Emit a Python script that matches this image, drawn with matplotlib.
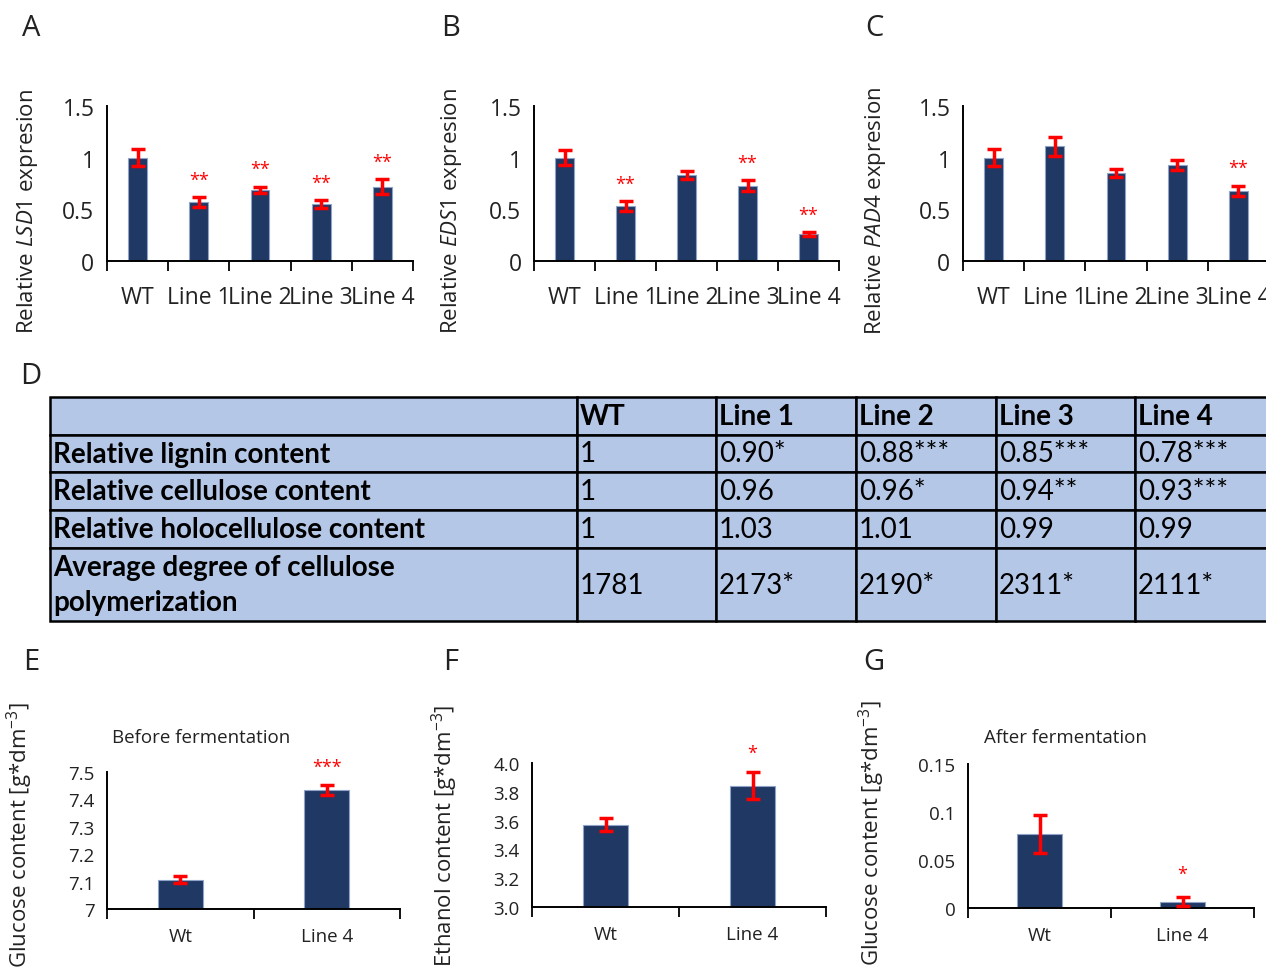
import numpy as np
import matplotlib
matplotlib.use('Agg')
import matplotlib.pyplot as plt
from matplotlib.ticker import FuncFormatter

plt.rcParams['font.family'] = ['Open Sans', 'DejaVu Sans']
plt.rcParams['mathtext.fontset'] = 'custom'
plt.rcParams['mathtext.rm'] = 'Open Sans'
plt.rcParams['mathtext.it'] = 'Open Sans:italic'

# ---- data ----
groups5 = ['WT', 'Line 1', 'Line 2', 'Line 3', 'Line 4']
lsd1_mean = [1.00, 0.57, 0.69, 0.55, 0.72]
lsd1_err = [0.08, 0.05, 0.03, 0.04, 0.07]
lsd1_sig = ['', '**', '**', '**', '**']
eds1_mean = [1.00, 0.53, 0.83, 0.73, 0.26]
eds1_err = [0.07, 0.05, 0.04, 0.05, 0.02]
eds1_sig = ['', '**', '', '**', '**']
pad4_mean = [1.00, 1.11, 0.85, 0.93, 0.68]
pad4_err = [0.08, 0.09, 0.04, 0.05, 0.05]
pad4_sig = ['', '', '', '', '**']

groups2 = ['Wt', 'Line 4']
glc_before_mean = [7.107, 7.435]
glc_before_err = [0.012, 0.018]
glc_before_sig = ['', '***']
ethanol_mean = [3.572, 3.843]
ethanol_err = [0.045, 0.095]
ethanol_sig = ['', '*']
glc_after_mean = [0.077, 0.0066]
glc_after_err = [0.020, 0.005]
glc_after_sig = ['', '*']

table_cols = ['', 'WT', 'Line 1', 'Line 2', 'Line 3', 'Line 4']
table_rows = ['Relative lignin content', 'Relative cellulose content',
              'Relative holocellulose content',
              'Average degree of cellulose\npolymerization']
table_vals = [['1', '0.90*', '0.88***', '0.85***', '0.78***'],
              ['1', '0.96', '0.96*', '0.94**', '0.93***'],
              ['1', '1.03', '1.01', '0.99', '0.99'],
              ['1781', '2173*', '2190*', '2311*', '2111*']]

W, H = 1266, 970
BAR = '#203864'
TXT = '#222222'
fig = plt.figure(figsize=(W / 100, H / 100), dpi=100)


def px_axes(left, top, right, bottom):
    return fig.add_axes([left / W, 1 - bottom / H, (right - left) / W, (bottom - top) / H])


def bar_panel(ax, labels, means, errs, sigs, ylim, yticks, fmt, star_off,
              ytick_fs, xtick_fs, star_fs, xpad):
    x = np.arange(len(labels))
    ax.bar(x, means, width=0.31, color=BAR, edgecolor='#8FA3C8', linewidth=0.8, zorder=2)
    ax.errorbar(x, means, yerr=errs, fmt='none', ecolor='#FF0000', elinewidth=2.5,
                capsize=5, capthick=2.5, zorder=3)
    for xi, m, e, s in zip(x, means, errs, sigs):
        if s:
            ax.text(xi, m + e + star_off, s, color='#FF0000', ha='center', va='center',
                    fontsize=star_fs, clip_on=False)
    ax.set_xlim(-0.5, len(labels) - 0.5)
    ax.set_ylim(*ylim)
    ax.set_yticks(yticks)
    ax.yaxis.set_major_formatter(FuncFormatter(lambda v, p: fmt % v))
    ax.tick_params(axis='y', length=0, pad=9, labelsize=ytick_fs, colors=TXT)
    ax.set_xticks(np.arange(-0.5, len(labels)), [''] * (len(labels) + 1))
    ax.set_xticks(x, labels, minor=True)
    ax.tick_params(axis='x', which='major', direction='out', length=7, width=1.3)
    ax.tick_params(axis='x', which='minor', length=0, pad=xpad, labelsize=xtick_fs,
                   colors=TXT)
    for sp in ['top', 'right']:
        ax.spines[sp].set_visible(False)
    for sp in ['left', 'bottom']:
        ax.spines[sp].set_linewidth(1.4)


# ---- top row: relative expression ----
top_sets = [
    (107, 413, 'LSD1', lsd1_mean, lsd1_err, lsd1_sig, 28),
    (534, 839, 'EDS1', eds1_mean, eds1_err, eds1_sig, 452),
    (963, 1269, 'PAD4', pad4_mean, pad4_err, pad4_sig, 876),
]
for left, right, gene, m, e, s, lx in top_sets:
    ax = px_axes(left, 107, right, 262)
    bar_panel(ax, groups5, m, e, s, (0, 1.5), [0, 0.5, 1, 1.5], '%g', 0.17,
              16.5, 16.5, 13, 17)
    fig.text(lx / W, 1 - 211 / H, 'Relative $\\it{%s}$ expresion' % gene, rotation=90,
             ha='center', va='center', fontsize=16, color=TXT)

# ---- table D ----
tax = fig.add_axes([50 / W, 1 - 622 / H, (1275 - 50) / W, (622 - 398) / H])
tax.axis('off')
cell_text = [table_cols] + [[r] + v for r, v in zip(table_rows, table_vals)]
col_px = [527, 139, 140, 140, 139, 140]
row_px = [38, 37, 38, 38, 73]
tbl = tax.table(cellText=cell_text, cellLoc='left', bbox=[0, 0, 1, 1])
tbl.auto_set_font_size(False)
for (r, c), cell in tbl.get_celld().items():
    cell.set_width(col_px[c])
    cell.set_height(row_px[r])
    cell.set_facecolor('#B4C7E7')
    cell.set_edgecolor('black')
    cell.set_linewidth(1.8)
    cell.PAD = 3.0 / col_px[c]
    t = cell.get_text()
    t.set_fontfamily(['Lato', 'DejaVu Sans'])
    t.set_fontsize(20)
    t.set_color('black')
    t.set_linespacing(1.45)
    if r == 0 or c == 0:
        t.set_fontweight('bold')

# ---- bottom row ----
ylab = 'content [g*dm$^{-3}$]'
ax = px_axes(107, 773, 400, 910)
bar_panel(ax, groups2, glc_before_mean, glc_before_err, glc_before_sig, (7, 7.5),
          [7, 7.1, 7.2, 7.3, 7.4, 7.5], '%g', 0.065, 13.5, 13.5, 13, 13)
fig.text(201 / W, 1 - 738 / H, 'Before fermentation', ha='center', va='center',
         fontsize=13.5, color=TXT)
fig.text(20 / W, 1 - 835 / H, 'Glucose ' + ylab, rotation=90, ha='center', va='center',
         fontsize=16, color=TXT)

ax = px_axes(532, 764, 826, 908)
bar_panel(ax, groups2, ethanol_mean, ethanol_err, ethanol_sig, (3, 4),
          [3.0, 3.2, 3.4, 3.6, 3.8, 4.0], '%.1f', 0.13, 13.5, 13.5, 13, 13)
fig.text(445 / W, 1 - 836 / H, 'Ethanol ' + ylab, rotation=90, ha='center', va='center',
         fontsize=16, color=TXT)

ax = px_axes(968, 765, 1254, 909)
bar_panel(ax, groups2, glc_after_mean, glc_after_err, glc_after_sig, (0, 0.15),
          [0, 0.05, 0.1, 0.15], '%g', 0.024, 13.5, 13.5, 13, 13)
fig.text(1065 / W, 1 - 738 / H, 'After fermentation', ha='center', va='center',
         fontsize=13.5, color=TXT)
fig.text(872 / W, 1 - 833 / H, 'Glucose ' + ylab, rotation=90, ha='center', va='center',
         fontsize=16, color=TXT)

# ---- panel letters ----
for letter, lx, ly in [('A', 31, 28), ('B', 451, 28), ('C', 874, 28), ('D', 31, 377),
                       ('E', 31, 662), ('F', 451, 662), ('G', 874, 662)]:
    fig.text(lx / W, 1 - ly / H, letter, ha='center', va='center', fontsize=21,
             color=TXT)

fig.savefig('out.png', dpi=100)
